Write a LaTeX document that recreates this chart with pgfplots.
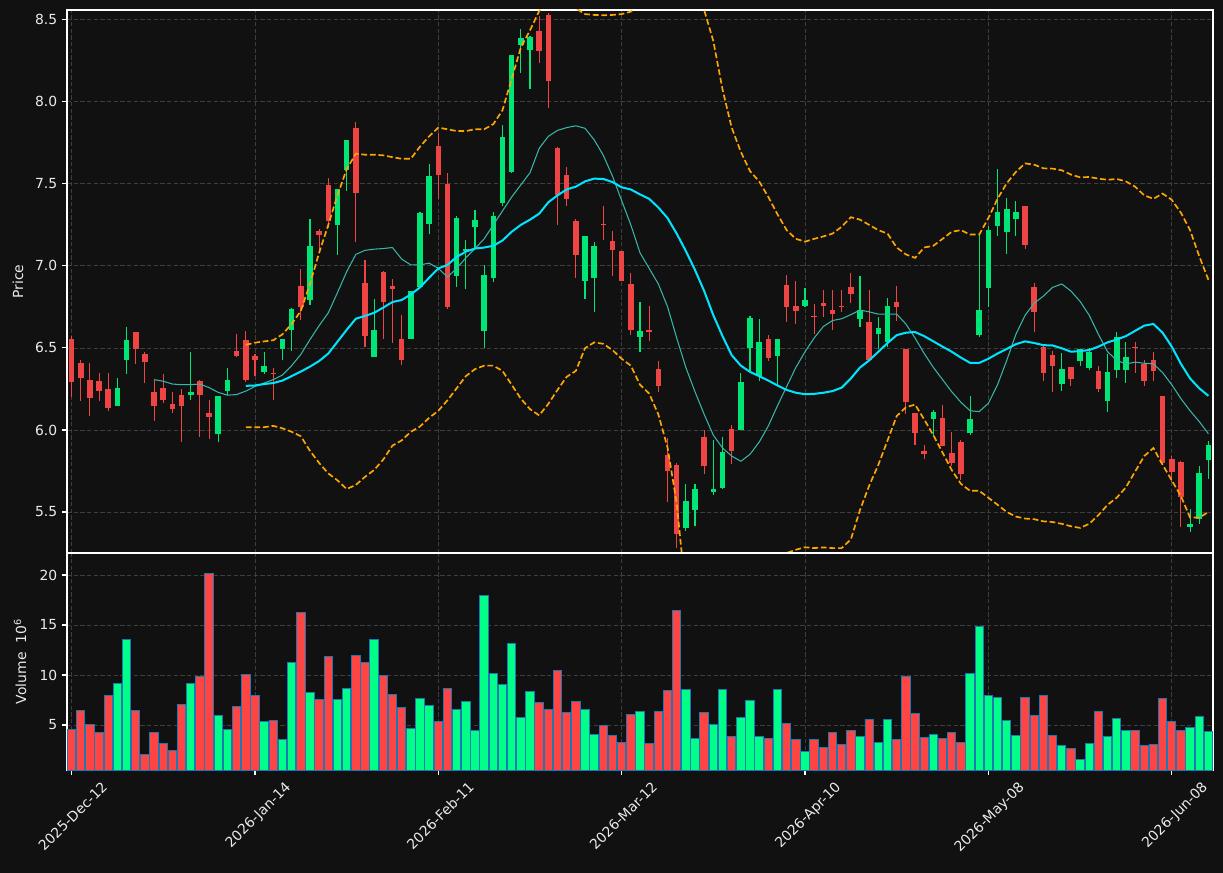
\documentclass[border=0pt]{standalone}
\usepackage{pgfplots}
\pgfplotsset{compat=1.18}
\usepackage{pgfplotstable}
\usepackage{fontspec}
\setmainfont{DejaVu Sans}
\definecolor{bg}{RGB}{17,17,17}
\definecolor{upc}{RGB}{0,230,118}
\definecolor{dnc}{RGB}{239,68,68}
\definecolor{vup}{RGB}{0,255,136}
\definecolor{vdn}{RGB}{255,68,68}
\definecolor{vedge}{RGB}{31,119,180}
\definecolor{maten}{RGB}{55,183,170}
\definecolor{matwenty}{RGB}{0,229,255}
\definecolor{bbc}{RGB}{255,165,0}
\definecolor{gridc}{RGB}{62,62,62}
\definecolor{txt}{RGB}{235,235,235}

\pgfplotstableread{
x o h l c v
5 6.146 6.318 6.146 6.258 9.2
6 6.426 6.625 6.343 6.547 13.6
13 6.212 6.477 6.184 6.229 9.2
16 5.975 6.210 5.926 6.210 6.0
17 6.237 6.375 6.212 6.307 4.6
21 6.352 6.477 6.339 6.388 5.4
23 6.494 6.557 6.428 6.557 3.6
24 6.610 6.746 6.481 6.737 11.3
26 6.792 7.288 6.763 7.119 8.3
29 7.248 7.466 7.068 7.466 7.6
30 7.583 7.765 7.458 7.765 8.7
33 6.445 6.801 6.445 6.612 13.6
37 6.555 6.847 6.555 6.847 4.7
38 6.869 7.330 6.869 7.320 7.7
39 7.254 7.623 7.195 7.547 7.0
42 6.939 7.305 6.869 7.290 6.6
43 7.090 7.161 6.858 7.102 7.4
44 7.235 7.339 7.102 7.278 4.5
45 6.604 7.006 6.498 6.943 18.0
46 6.926 7.330 6.905 7.307 10.2
47 7.383 7.860 7.367 7.784 9.1
48 7.572 8.286 7.568 8.286 13.2
49 8.345 8.443 8.176 8.390 5.8
50 8.316 8.400 8.080 8.398 8.4
56 6.907 7.180 6.801 7.180 6.6
57 6.926 7.148 6.720 7.119 4.1
62 6.566 6.778 6.477 6.602 6.4
67 5.400 5.672 5.386 5.564 8.6
68 5.513 5.672 5.415 5.638 3.7
70 5.619 5.936 5.604 5.638 5.1
71 5.648 5.958 5.640 5.864 8.6
73 6.000 6.345 6.000 6.290 5.8
74 6.498 6.693 6.360 6.682 7.5
75 6.328 6.678 6.301 6.538 3.9
77 6.451 6.557 6.265 6.557 8.6
80 6.756 6.864 6.752 6.790 2.4
86 6.676 6.939 6.629 6.729 3.9
88 6.587 6.691 6.492 6.619 3.3
89 6.534 6.807 6.504 6.754 5.6
94 6.066 6.121 5.958 6.110 4.1
98 5.979 6.206 5.968 6.064 10.2
99 6.578 7.191 6.568 6.729 14.9
100 6.864 7.246 6.752 7.216 8.0
101 7.244 7.593 7.184 7.326 7.8
102 7.206 7.415 7.074 7.345 5.5
103 7.286 7.398 7.184 7.326 4.0
108 6.280 6.470 6.240 6.369 3.0
110 6.420 6.492 6.392 6.492 1.6
111 6.375 6.502 6.364 6.477 3.2
113 6.176 6.466 6.112 6.352 3.9
114 6.364 6.597 6.318 6.568 5.7
115 6.364 6.538 6.286 6.443 4.5
122 5.409 5.517 5.379 5.424 4.8
123 5.458 5.782 5.428 5.735 5.9
124 5.816 5.932 5.703 5.911 4.4
}\up

\pgfplotstableread{
x o h l c v
0 6.557 6.572 6.201 6.292 4.6
1 6.407 6.428 6.176 6.314 6.5
2 6.307 6.407 6.085 6.195 5.1
3 6.297 6.345 6.176 6.237 4.23
4 6.248 6.345 6.117 6.133 8.0
7 6.595 6.595 6.403 6.494 6.5
8 6.466 6.477 6.286 6.413 2.1
9 6.229 6.311 6.057 6.146 4.23
10 6.258 6.339 6.163 6.180 3.2
11 6.161 6.229 6.106 6.127 2.43
12 6.216 6.248 5.926 6.146 7.1
14 6.297 6.307 5.958 6.212 9.83
15 6.102 6.184 5.943 6.076 20.2
18 6.483 6.587 6.445 6.449 6.9
19 6.547 6.604 6.290 6.305 10.1
20 6.449 6.466 6.328 6.424 8.0
22 6.347 6.375 6.184 6.339 5.5
25 6.875 6.983 6.672 6.750 16.3
27 7.210 7.225 7.080 7.186 7.6
28 7.492 7.538 7.233 7.271 11.9
31 7.839 7.875 7.148 7.445 12.0
32 6.894 7.038 6.508 6.572 11.3
34 6.960 6.970 6.555 6.778 10.0
35 6.879 6.922 6.530 6.858 8.1
36 6.557 6.699 6.396 6.424 6.8
40 7.729 7.811 7.409 7.553 5.4
41 7.498 7.568 6.740 6.750 8.7
51 8.430 8.521 8.239 8.309 7.3
52 8.530 8.540 7.964 8.125 6.6
53 7.716 7.727 7.250 7.434 10.5
54 7.557 7.604 7.367 7.405 6.3
55 7.271 7.286 6.928 7.066 7.4
58 7.258 7.367 7.155 7.250 5.0
59 7.150 7.214 6.939 7.097 4.0
60 7.091 7.091 6.911 6.911 3.3
61 6.890 6.958 6.578 6.608 6.1
63 6.612 6.758 6.540 6.597 3.2
64 6.369 6.422 6.233 6.267 6.4
65 5.845 5.953 5.561 5.750 8.5
66 5.784 5.799 5.280 5.364 16.5
69 5.960 6.000 5.731 5.780 6.3
72 6.004 6.032 5.795 5.869 3.9
76 6.553 6.580 6.419 6.436 3.7
78 6.881 6.943 6.657 6.748 5.2
79 6.754 6.911 6.646 6.725 3.6
81 6.693 6.769 6.583 6.689 3.6
82 6.771 6.852 6.689 6.756 2.8
83 6.729 6.854 6.610 6.706 4.3
84 6.754 6.854 6.720 6.748 3.1
85 6.869 6.958 6.773 6.828 4.5
87 6.661 6.852 6.424 6.424 5.6
90 6.778 6.879 6.665 6.748 3.6
91 6.492 6.492 6.095 6.169 9.9
92 6.102 6.102 5.909 5.981 6.2
93 5.873 5.909 5.824 5.852 3.8
95 6.070 6.155 5.900 5.903 3.7
96 5.862 5.987 5.778 5.799 4.3
97 5.924 5.936 5.693 5.731 3.3
104 7.367 7.367 7.106 7.127 7.8
105 6.869 6.898 6.597 6.720 6.0
106 6.508 6.519 6.301 6.350 8.0
107 6.460 6.481 6.233 6.390 4.0
109 6.381 6.381 6.271 6.309 2.7
112 6.362 6.392 6.233 6.250 6.4
116 6.508 6.538 6.350 6.500 4.5
117 6.403 6.428 6.269 6.297 3.0
118 6.424 6.477 6.301 6.360 3.1
119 6.210 6.210 5.788 5.799 7.7
120 5.826 5.841 5.682 5.744 5.4
121 5.803 5.809 5.407 5.591 4.5
}\down

\pgfplotstableread{
x v
9 6.307
10 6.297
11 6.280
12 6.276
13 6.276
14 6.280
15 6.258
16 6.229
17 6.212
18 6.216
19 6.237
20 6.265
21 6.286
22 6.307
23 6.335
24 6.392
25 6.460
26 6.551
27 6.636
28 6.714
29 6.837
30 6.964
31 7.070
32 7.095
33 7.102
34 7.106
35 7.112
36 7.042
37 7.006
38 7.006
39 7.017
40 6.985
41 6.932
42 6.985
43 7.049
44 7.106
45 7.165
46 7.250
47 7.335
48 7.420
49 7.494
50 7.568
51 7.716
52 7.790
53 7.826
54 7.843
55 7.854
56 7.839
57 7.769
58 7.674
59 7.547
60 7.398
61 7.250
62 7.080
63 6.985
64 6.890
65 6.752
66 6.561
67 6.381
68 6.233
69 6.095
70 5.968
71 5.890
72 5.841
73 5.809
74 5.852
75 5.926
76 6.025
77 6.148
78 6.265
79 6.381
80 6.477
81 6.561
82 6.631
83 6.667
84 6.678
85 6.703
86 6.731
87 6.720
88 6.706
89 6.706
90 6.706
91 6.646
92 6.561
93 6.466
94 6.381
95 6.307
96 6.233
97 6.169
98 6.117
99 6.112
100 6.163
101 6.276
102 6.424
103 6.583
104 6.699
105 6.773
106 6.816
107 6.869
108 6.890
109 6.847
110 6.784
111 6.699
112 6.583
113 6.477
114 6.424
115 6.403
116 6.413
117 6.407
118 6.403
119 6.350
120 6.276
121 6.191
122 6.117
123 6.051
124 5.977
}\maten

\pgfplotstableread{
x m u l
19 6.269 6.519 6.017
20 6.271 6.532 6.017
21 6.280 6.540 6.017
22 6.286 6.547 6.025
23 6.301 6.583 6.010
24 6.328 6.646 5.989
25 6.356 6.725 5.962
26 6.386 6.890 5.873
27 6.420 7.080 5.799
28 6.466 7.250 5.735
29 6.538 7.430 5.693
30 6.610 7.589 5.640
31 6.678 7.684 5.665
32 6.695 7.678 5.714
33 6.714 7.678 5.756
34 6.746 7.674 5.820
35 6.780 7.663 5.905
36 6.792 7.653 5.936
37 6.826 7.653 5.989
38 6.869 7.727 6.021
39 6.928 7.790 6.074
40 6.985 7.843 6.117
41 7.006 7.833 6.181
42 7.055 7.822 6.254
43 7.087 7.822 6.328
44 7.106 7.833 6.371
45 7.112 7.833 6.392
46 7.123 7.864 6.392
47 7.155 7.949 6.360
48 7.208 8.140 6.276
49 7.250 8.331 6.191
50 7.282 8.436 6.127
51 7.318 8.553 6.089
52 7.388 8.620 6.159
53 7.430 8.640 6.244
54 7.466 8.620 6.324
55 7.483 8.570 6.360
56 7.515 8.535 6.498
57 7.532 8.530 6.534
58 7.530 8.528 6.525
59 7.511 8.530 6.487
60 7.479 8.535 6.434
61 7.466 8.550 6.392
62 7.436 8.600 6.276
63 7.409 8.700 6.222
64 7.356 8.820 6.095
65 7.292 8.950 5.894
66 7.197 9.000 5.555
67 7.091 8.950 5.000
68 6.975 8.800 4.850
69 6.847 8.560 4.750
70 6.699 8.370 4.700
71 6.572 8.076 4.720
72 6.456 7.843 4.800
73 6.392 7.695 4.900
74 6.354 7.578 5.000
75 6.328 7.515 5.100
76 6.301 7.420 5.150
77 6.271 7.314 5.200
78 6.244 7.218 5.250
79 6.227 7.165 5.270
80 6.218 7.148 5.285
81 6.220 7.165 5.280
82 6.227 7.180 5.284
83 6.237 7.197 5.280
84 6.258 7.239 5.280
85 6.314 7.297 5.333
86 6.381 7.282 5.513
87 6.424 7.250 5.661
88 6.477 7.218 5.788
89 6.530 7.197 5.936
90 6.578 7.112 6.085
91 6.593 7.070 6.138
92 6.597 7.049 6.155
93 6.572 7.112 6.064
94 6.540 7.123 5.968
95 6.508 7.165 5.862
96 6.477 7.208 5.756
97 6.441 7.218 5.672
98 6.409 7.191 5.629
99 6.409 7.191 5.629
100 6.434 7.292 5.587
101 6.466 7.409 5.544
102 6.494 7.504 5.500
103 6.523 7.573 5.472
104 6.540 7.625 5.460
105 6.530 7.617 5.456
106 6.517 7.595 5.443
107 6.515 7.593 5.439
108 6.498 7.583 5.428
109 6.477 7.557 5.413
110 6.481 7.540 5.403
111 6.487 7.542 5.428
112 6.508 7.532 5.481
113 6.534 7.525 5.544
114 6.551 7.530 5.587
115 6.572 7.515 5.650
116 6.604 7.483 5.746
117 6.636 7.430 5.841
118 6.646 7.409 5.890
119 6.593 7.441 5.788
120 6.508 7.403 5.693
121 6.403 7.324 5.597
122 6.314 7.218 5.466
123 6.254 7.059 5.466
124 6.208 6.915 5.500
}\bands

\pgfplotsset{
  darkax/.style={
    scale only axis, width=825.12pt,
    xmin=-0.5, xmax=124.5,
    axis line style={white, line width=0.8pt},
    tick style={white, line width=0.8pt},
    tick align=outside, major tick length=3.5pt,
    tick pos=left,
    ticklabel style={font=\fontsize{10}{12}\selectfont, text=txt},
    label style={font=\fontsize{10}{12}\selectfont, text=txt},
    grid=major,
    major grid style={gridc, dash pattern=on 3.2pt off 1.6pt, line width=0.6pt},
    xtick={0,20,40,60,80,100,120},
    /pgf/number format/assume math mode=true,
  },
  wick/.style={draw=none, mark=none, forget plot,
    error bars/.cd, y dir=plus, y explicit, error mark=none,
    error bar style={draw=#1, line width=0.8pt}},
  body/.style={draw=none, mark=none, forget plot,
    error bars/.cd, y dir=plus, y explicit, error mark=none,
    error bar style={draw=#1, line width=4pt}},
}

\begin{document}
\begin{tikzpicture}
\path[use as bounding box, fill=bg] (-48.24pt,7.2pt) rectangle (832.32pt,-621.36pt);

\begin{axis}[darkax, at={(0pt,0pt)}, anchor=north west, height=390.96pt,
  ymin=5.25, ymax=8.56,
  ytick={5.5,6.0,6.5,7.0,7.5,8.0,8.5},
  yticklabel style={/pgf/number format/.cd, fixed, fixed zerofill, precision=1},
  xticklabels={}, xtick style={draw=none},
  ylabel={Price},
  ylabel style={at={(axis description cs:-0.0428,0.5)}, anchor=center},
]
\addplot[wick=upc] table[x=x, y=l, y error plus expr=\thisrow{h}-\thisrow{l}] {\up};
\addplot[wick=dnc] table[x=x, y=l, y error plus expr=\thisrow{h}-\thisrow{l}] {\down};
\addplot[body=upc] table[x=x, y=o, y error plus expr=\thisrow{c}-\thisrow{o}] {\up};
\addplot[body=dnc] table[x=x, y=c, y error plus expr=\thisrow{o}-\thisrow{c}] {\down};

\addplot[maten, mark=none, line width=0.75pt, line join=round] table[x=x, y=v] {\maten};
\addplot[matwenty, mark=none, line width=1.45pt, line join=round] table[x=x, y=m] {\bands};
\addplot[bbc, mark=none, line width=1.2pt, dash pattern=on 4.2pt off 2pt] table[x=x, y=u] {\bands};
\addplot[bbc, mark=none, line width=1.2pt, dash pattern=on 4.2pt off 2pt] table[x=x, y=l] {\bands};
\end{axis}

\begin{axis}[darkax, at={(0pt,-390.96pt)}, anchor=north west, height=156.24pt,
  ymin=0.5, ymax=22.2,
  ytick={5,10,15,20},
  xticklabels={2025-Dec-12,2026-Jan-14,2026-Feb-11,2026-Mar-12,2026-Apr-10,2026-May-08,2026-Jun-08},
  xticklabel style={xshift=21pt, yshift=-4pt, rotate=45, anchor=north east, inner sep=0pt},
  ylabel={Volume\ \ 10\textsuperscript{6}},
  ylabel style={at={(axis description cs:-0.041,0.5)}, anchor=center},
]
\addplot[ybar, bar width=0.92, bar shift=0pt, fill=vdn, draw=vedge, line width=0.7pt] table[x=x, y=v] {\down};
\addplot[ybar, bar width=0.92, bar shift=0pt, fill=vup, draw=vedge, line width=0.7pt] table[x=x, y=v] {\up};
\end{axis}
\end{tikzpicture}
\end{document}
